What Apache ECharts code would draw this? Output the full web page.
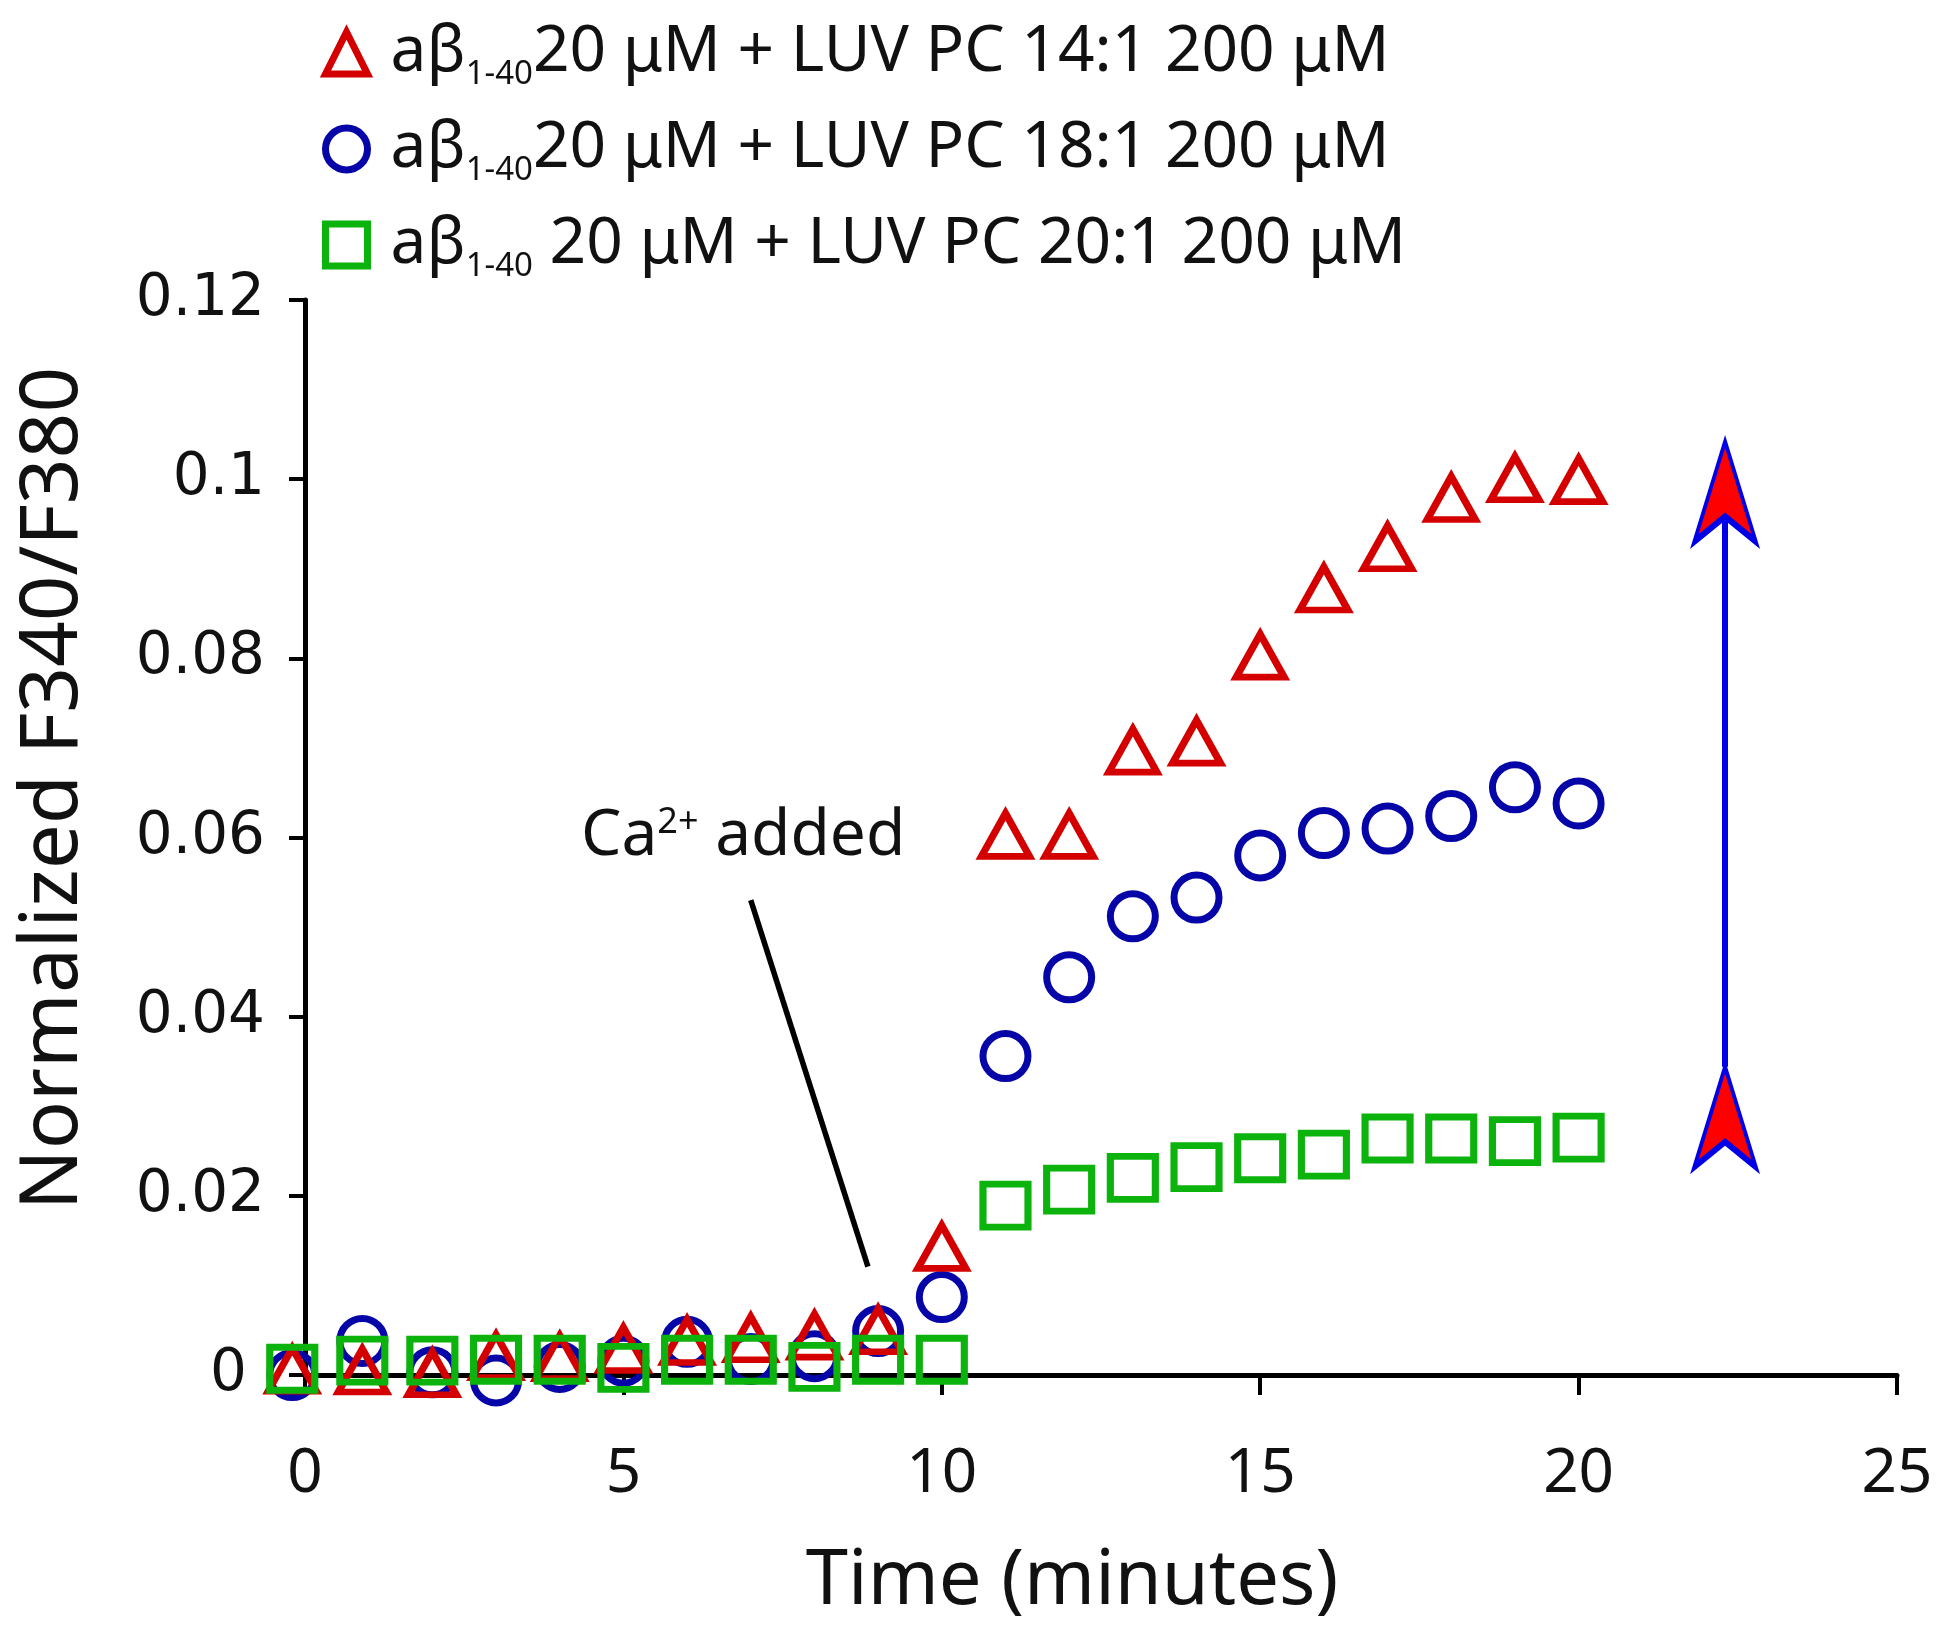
<!DOCTYPE html>
<html><head><meta charset="utf-8">
<script src="https://cdn.jsdelivr.net/npm/echarts@6/dist/echarts.min.js"></script>
<style>html,body{margin:0;padding:0;background:#fff}#c{width:1950px;height:1645px}</style>
</head><body><div id="c"></div>
<script>
// ---- data ----
const times = [-0.2, 0.9, 2, 3, 4, 5, 6, 7, 8, 9, 10, 11, 12, 13, 14, 15, 16, 17, 18, 19, 20];
const pc14 = [0.0006, 0.0005, 0.0002, 0.0021, 0.0020, 0.0029, 0.0038, 0.0041, 0.0044, 0.0050, 0.0143,
              0.0603, 0.0603, 0.0697, 0.0707, 0.0803, 0.0878, 0.0924, 0.0979, 0.1001, 0.0999];
const pc18 = [0.0000, 0.0038, 0.0003, -0.0006, 0.0009, 0.0016, 0.0037, 0.0018, 0.0021, 0.0049, 0.0087,
              0.0356, 0.0444, 0.0512, 0.0533, 0.0580, 0.0605, 0.0610, 0.0624, 0.0656, 0.0638];
const pc20 = [0.0007, 0.0016, 0.0016, 0.0017, 0.0017, 0.0008, 0.0017, 0.0017, 0.0009, 0.0017, 0.0017,
              0.0189, 0.0207, 0.0220, 0.0232, 0.0242, 0.0246, 0.0264, 0.0264, 0.0261, 0.0265];
const seriesNames = ['aβ1-40 20 μM + LUV PC 14:1 200 μM', 'aβ1-40 20 μM + LUV PC 18:1 200 μM', 'aβ1-40 20 μM + LUV PC 20:1 200 μM'];
const legendPrefix = 'aβ';
const legendSub = '1-40';
const legendRest = ['20 μM + LUV PC 14:1 200 μM', '20 μM + LUV PC 18:1 200 μM', ' 20 μM + LUV PC 20:1 200 μM'];
const xTicks = [0, 5, 10, 15, 20, 25];
const yTicks = [0, 0.02, 0.04, 0.06, 0.08, 0.1, 0.12];
const xTitle = 'Time (minutes)';
const yTitle = 'Normalized F340/F380';
// annotations (data coordinates)
const caText = ['Ca', '2+', ' added'];
const caTextAt = [6.88, 0.0601];
const caPointer = [[7.0, 0.0530], [8.84, 0.0121]];
const arrowX = 22.3;
const arrowLine = [0.0344, 0.0954];
const arrowTips = [0.1042, 0.0344];

const RED = '#d40000', BLUE = '#0606a8', GREEN = '#0cb30c';
const toPairs = v => times.map((t, i) => [t, v[i]]);

const chart = echarts.init(document.getElementById('c'), null, {renderer: 'canvas'});
const F = 'Noto Sans';

function sc(name, vals, symbol, size, color, z) {
  return {
    type: 'scatter', name, z, data: toPairs(vals), clip: false,
    symbol, symbolSize: size,
    itemStyle: {color: 'rgba(0,0,0,0)', borderColor: color, borderWidth: 7, opacity: 1},
    emphasis: {disabled: true}, animation: false
  };
}

const option = {
  backgroundColor: '#fff',
  animation: false,
  grid: {left: 305, right: 53, top: 300, bottom: 270, containLabel: false, outerBoundsMode: 'none'},
  legend: {
    data: seriesNames, orient: 'vertical', left: 322, top: 21, padding: 0,
    itemGap: 26, itemWidth: 42, itemHeight: 42, selectedMode: false,
    itemStyle: {borderWidth: 7, opacity: 1},
    formatter: name => {
      const i = seriesNames.indexOf(name);
      return '{m|' + legendPrefix + '}{s|' + legendSub + '}{m|' + legendRest[i] + '}';
    },
    textStyle: {
      fontFamily: F, fontSize: 63, color: '#111', padding: [0, 0, 0, 18],
      rich: {
        m: {fontFamily: F, fontSize: 64, lineHeight: 76, color: '#111'},
        s: {fontFamily: F, fontSize: 33, lineHeight: 10, verticalAlign: 'bottom', color: '#111'}
      }
    }
  },
  xAxis: {
    type: 'value', min: xTicks[0], max: xTicks[xTicks.length - 1], interval: xTicks[1] - xTicks[0],
    name: xTitle, nameLocation: 'middle', nameGap: 169,
    nameTextStyle: {fontFamily: F, fontSize: 76, color: '#111', padding: [0, 58, 0, 0]},
    axisLine: {show: true, onZero: true, lineStyle: {color: '#000', width: 5}},
    axisTick: {show: true, inside: false, length: 20, lineStyle: {color: '#000', width: 4}},
    axisLabel: {fontFamily: F, fontSize: 62, color: '#111', margin: 68},
    splitLine: {show: false}
  },
  yAxis: {
    type: 'value', min: yTicks[0], max: yTicks[yTicks.length - 1], interval: yTicks[1] - yTicks[0],
    name: yTitle, nameLocation: 'middle', nameGap: 211,
    nameTextStyle: {fontFamily: F, fontSize: 80, color: '#111', padding: [0, 0, 0, 98]},
    axisLine: {show: true, lineStyle: {color: '#000', width: 5}},
    axisTick: {show: true, inside: false, length: 16, lineStyle: {color: '#000', width: 4}},
    axisLabel: {fontFamily: 'DejaVu Sans', fontSize: 58, color: '#111', margin: 40,
      formatter: v => v === 0 ? '{z|0}' : String(+v.toFixed(2)),
      rich: {z: {fontFamily: 'DejaVu Sans', fontSize: 58, color: '#111', padding: [0, 18, 0, 0]}}},
    splitLine: {show: false}
  },
  series: [
    sc(seriesNames[1], pc18, 'circle', 45, BLUE, 2),
    sc(seriesNames[0], pc14, 'triangle', [48, 43], RED, 3),
    sc(seriesNames[2], pc20, 'rect', [45, 43], GREEN, 4),
    {
      type: 'scatter', name: 'annotations', data: [], z: 5, silent: true,
      markLine: {
        silent: true, symbol: ['none', 'none'], animation: false, z: 5,
        label: {show: false},
        data: [
          [{coord: caPointer[0], lineStyle: {color: '#000', width: 5.5, type: 'solid', opacity: 1}},
           {coord: caPointer[1]}],
          [{coord: [arrowX, arrowLine[0]], lineStyle: {color: '#0000e6', width: 6, type: 'solid', opacity: 1}},
           {coord: [arrowX, arrowLine[1]]}]
        ]
      },
      markPoint: {
        silent: true, animation: false, z: 6,
        data: [
          {coord: caTextAt, symbol: 'circle', symbolSize: 0,
            label: {show: true, position: 'inside',
              formatter: '{n|' + caText[0] + '}{p|' + caText[1] + '}{n|' + caText[2] + '}',
              rich: {
                n: {fontFamily: F, fontSize: 64, lineHeight: 64, color: '#111'},
                p: {fontFamily: F, fontSize: 36, lineHeight: 40, verticalAlign: 'top', color: '#111'}
              }}},
          {coord: [arrowX, arrowTips[0]], symbol: 'arrow', symbolSize: [46, 100],
            itemStyle: {color: '#ff0000', borderColor: '#0000e6', borderWidth: 5, opacity: 1}, label: {show: false}},
          {coord: [arrowX, arrowTips[1]], symbol: 'arrow', symbolSize: [46, 100],
            itemStyle: {color: '#ff0000', borderColor: '#0000e6', borderWidth: 5, opacity: 1}, label: {show: false}}
        ]
      }
    }
  ]
};
chart.setOption(option);
</script>
</body></html>
